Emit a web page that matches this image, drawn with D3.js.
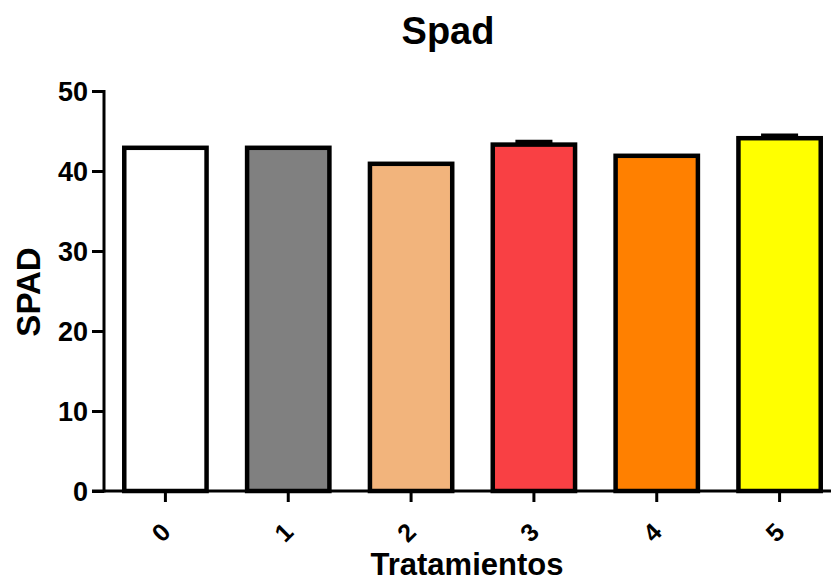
<!DOCTYPE html>
<html><head><meta charset="utf-8">
<script src="https://cdn.jsdelivr.net/npm/d3@7"></script>
<style>body{margin:0;background:#fff}svg text{font-family:"Liberation Sans",Arial,sans-serif;font-weight:bold}</style>
</head><body><svg id="c" width="831" height="582"></svg>
<script>
const categories = ["0","1","2","3","4","5"];
const values = [42.9, 42.9, 40.9, 43.3, 41.9, 44.1];
const errors = [0, 0, 0, 0.35, 0, 0.35];
const colors = ["#FFFFFF","#808080","#F2B47C","#F94044","#FF8000","#FFFF00"];
const yTicks = [0,10,20,30,40,50];

const svg = d3.select("#c");
const x = d3.scaleBand().domain(categories).range([104, 841]);
const y = d3.scaleLinear().domain([0,50]).range([491, 91]);
const bw = x.bandwidth()*0.67;

// bars
svg.selectAll("rect.bar").data(categories).enter().append("rect")
  .attr("x", d=>x(d)+x.bandwidth()/2-bw/2)
  .attr("y", (d,i)=>y(values[i]))
  .attr("width", bw)
  .attr("height", (d,i)=>y(0)-y(values[i]))
  .attr("fill", (d,i)=>colors[i])
  .attr("stroke","#000").attr("stroke-width",4.5);

// error bars (upward)
const capW = bw*0.45;
const withErr = categories.filter((d,i)=>errors[i]>0);
svg.selectAll("line.cap").data(withErr).enter().append("line")
  .attr("x1", d=>x(d)+x.bandwidth()/2-capW/2).attr("x2", d=>x(d)+x.bandwidth()/2+capW/2)
  .attr("y1", d=>{const i=categories.indexOf(d);return y(values[i]+errors[i]);})
  .attr("y2", d=>{const i=categories.indexOf(d);return y(values[i]+errors[i]);})
  .attr("stroke","#000").attr("stroke-width",4);

// y axis
const ya = svg.append("g").attr("transform","translate(104,0)")
  .call(d3.axisLeft(y).tickValues(yTicks).tickSize(12).tickSizeOuter(0).tickPadding(4));
ya.select(".domain").attr("stroke-width",3).attr("d","M0,"+(y(50)-1)+"V"+(y(0)+1.5));
ya.selectAll(".tick line").attr("stroke-width",3);
ya.selectAll(".tick text").attr("font-size",27).attr("fill","#000").attr("dy","0.36em");

// x axis
const xa = svg.append("g").attr("transform","translate(0,491)")
  .call(d3.axisBottom(x).tickSize(11).tickSizeOuter(0).tickFormat(d=>d));
xa.select(".domain").attr("stroke-width",3).attr("d","M92,0H841");
xa.selectAll(".tick line").attr("stroke-width",3);
xa.selectAll(".tick text").attr("font-size",25).attr("fill","#000")
  .attr("text-anchor","middle").attr("dy",0).attr("y",0)
  .attr("transform","translate(-3,43) rotate(-45)").attr("dominant-baseline","middle");

// titles
svg.append("text").attr("x",448).attr("y",44).attr("text-anchor","middle")
  .attr("font-size",38).text("Spad");
svg.append("text").attr("x",467).attr("y",575).attr("text-anchor","middle")
  .attr("font-size",31).text("Tratamientos");
svg.append("text").attr("transform","translate(40,292) rotate(-90)").attr("text-anchor","middle")
  .attr("font-size",33).text("SPAD");
</script></body></html>
